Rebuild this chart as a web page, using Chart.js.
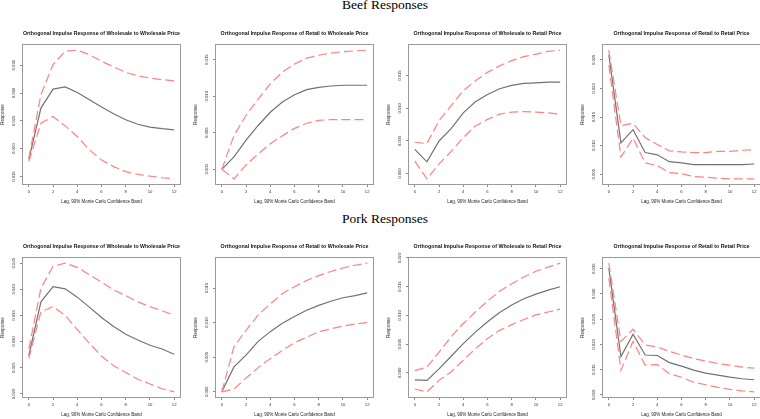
<!DOCTYPE html>
<html><head><meta charset="utf-8">
<script src="https://cdn.jsdelivr.net/npm/chart.js@4.4.1/dist/chart.umd.min.js"></script>
<style>
html,body{margin:0;padding:0;background:#fff;width:760px;height:419px;overflow:hidden;position:relative}
canvas{position:absolute}
.hd{position:absolute;left:0;width:770px;text-align:center;font-family:"Liberation Serif","Times New Roman",serif;font-size:13.5px;color:#000;line-height:1;white-space:nowrap}
</style></head><body>
<div class="hd" style="top:-1.8px">Beef Responses</div>
<div class="hd" style="top:211.7px">Pork Responses</div>
<script>
const lags = [0,1,2,3,4,5,6,7,8,9,10,11,12];
const xTicks = [0,2,4,6,8,10,12];

const titleWW = 'Orthogonal Impulse Response of Wholesale to Wholesale Price';
const titleRW = 'Orthogonal Impulse Response of Retail to Wholesale Price';
const titleWR = 'Orthogonal Impulse Response of Wholesale to Retail Price';
const titleRR = 'Orthogonal Impulse Response of Retail to Retail Price';
const xTitle = 'Lag, 90% Monte Carlo Confidence Band';
const yTitle = 'Response';

// Beef
const beefWWmid = [0.0181,0.0273,0.0307,0.0311,0.0301,0.0288,0.0275,0.0263,0.0252,0.0244,0.0239,0.0236,0.0234];
const beefWWup  = [0.0183,0.0297,0.0351,0.0375,0.0377,0.0369,0.0357,0.0347,0.0337,0.0331,0.0327,0.0324,0.0322];
const beefWWlo  = [0.0177,0.0246,0.0258,0.0241,0.0222,0.0198,0.0180,0.0168,0.0159,0.0154,0.0151,0.0148,0.0146];
const beefWWticks = [0.015,0.020,0.025,0.030,0.035];

const beefRWmid = [0.0000,0.0017,0.0040,0.0060,0.0078,0.0092,0.0102,0.0109,0.0112,0.0114,0.0115,0.0115,0.0115];
const beefRWup  = [0.0000,0.0046,0.0074,0.0096,0.0117,0.0133,0.0144,0.0152,0.0156,0.0159,0.0161,0.0162,0.0163];
const beefRWlo  = [0.0000,-0.0013,0.0006,0.0021,0.0035,0.0046,0.0056,0.0063,0.0067,0.0068,0.0068,0.0068,0.0068];
const beefRWticks = [0.000,0.005,0.010,0.015];

const beefWRmid = [0.0037,0.0018,0.0050,0.0069,0.0093,0.0110,0.0121,0.0130,0.0135,0.0138,0.0139,0.0140,0.0140];
const beefWRup  = [0.0048,0.0046,0.0081,0.0104,0.0127,0.0142,0.0155,0.0165,0.0173,0.0179,0.0183,0.0187,0.0189];
const beefWRlo  = [0.0019,-0.0008,0.0015,0.0034,0.0055,0.0073,0.0083,0.0091,0.0094,0.0095,0.0094,0.0093,0.0091];
const beefWRticks = [0.000,0.005,0.010,0.015];

const beefRRmid = [0.0259,0.0105,0.0128,0.0088,0.0084,0.0072,0.0070,0.0067,0.0067,0.0067,0.0067,0.0067,0.0068];
const beefRRup  = [0.0267,0.0135,0.0139,0.0114,0.0102,0.0091,0.0089,0.0088,0.0088,0.0090,0.0090,0.0092,0.0093];
const beefRRlo  = [0.0241,0.0080,0.0113,0.0070,0.0065,0.0053,0.0051,0.0046,0.0045,0.0043,0.0042,0.0042,0.0042];
const beefRRticks = [0.005,0.010,0.015,0.020,0.025];

// Pork
const porkWWmid = [0.0273,0.0376,0.0405,0.0401,0.0385,0.0366,0.0346,0.0329,0.0314,0.0303,0.0293,0.0286,0.0276];
const porkWWup  = [0.0286,0.0402,0.0444,0.0450,0.0442,0.0428,0.0414,0.0399,0.0388,0.0376,0.0367,0.0359,0.0350];
const porkWWlo  = [0.0268,0.0357,0.0367,0.0350,0.0323,0.0297,0.0272,0.0254,0.0241,0.0228,0.0219,0.0210,0.0204];
const porkWWticks = [0.020,0.025,0.030,0.035,0.040,0.045];

const porkRWmid = [0.0000,0.0036,0.0053,0.0073,0.0087,0.0099,0.0109,0.0118,0.0125,0.0131,0.0136,0.0139,0.0143];
const porkRWup  = [0.0000,0.0065,0.0089,0.0111,0.0127,0.0142,0.0152,0.0161,0.0168,0.0174,0.0179,0.0183,0.0186];
const porkRWlo  = [0.0000,0.0004,0.0020,0.0035,0.0048,0.0060,0.0071,0.0079,0.0087,0.0091,0.0095,0.0098,0.0100];
const porkRWticks = [0.000,0.005,0.010,0.015];

const porkWRmid = [-0.0012,-0.0013,0.0007,0.0029,0.0051,0.0071,0.0089,0.0105,0.0118,0.0129,0.0137,0.0144,0.0150];
const porkWRup  = [0.0004,0.0010,0.0036,0.0063,0.0086,0.0106,0.0125,0.0142,0.0155,0.0167,0.0177,0.0184,0.0191];
const porkWRlo  = [-0.0028,-0.0033,-0.0013,0.0002,0.0022,0.0042,0.0060,0.0074,0.0084,0.0093,0.0101,0.0106,0.0111];
const porkWRticks = [0.000,0.005,0.010,0.015,0.020];

const porkRRmid = [0.0351,0.0176,0.0220,0.0179,0.0178,0.0164,0.0157,0.0149,0.0143,0.0139,0.0135,0.0132,0.0130];
const porkRRup  = [0.0361,0.0206,0.0230,0.0199,0.0195,0.0186,0.0179,0.0172,0.0167,0.0162,0.0159,0.0155,0.0153];
const porkRRlo  = [0.0331,0.0149,0.0206,0.0159,0.0160,0.0142,0.0135,0.0125,0.0120,0.0115,0.0111,0.0108,0.0106];
const porkRRticks = [0.010,0.015,0.020,0.025,0.030,0.035];

const FONT = '"Liberation Sans", Arial, Helvetica, sans-serif';
const BOXW = 157, AXW = 23, PADR = 10, CH = 190;

const framePlugin = {
  id: 'frame',
  afterDraw(chart) {
    const {ctx, chartArea: a} = chart;
    ctx.save();
    ctx.strokeStyle = '#9a9a9a';
    ctx.lineWidth = 1;
    ctx.strokeRect(Math.round(a.left) - 0.5, Math.round(a.top) - 0.5, Math.round(a.right - a.left) + 1, Math.round(a.bottom - a.top) + 1);
    ctx.restore();
  }
};

const panels = [
  {left: 23,  top: 20,  title: titleWW, mid: beefWWmid, up: beefWWup, lo: beefWWlo, ticks: beefWWticks},
  {left: 216, top: 20,  title: titleRW, mid: beefRWmid, up: beefRWup, lo: beefRWlo, ticks: beefRWticks},
  {left: 409, top: 20,  title: titleWR, mid: beefWRmid, up: beefWRup, lo: beefWRlo, ticks: beefWRticks},
  {left: 603, top: 20,  title: titleRR, mid: beefRRmid, up: beefRRup, lo: beefRRlo, ticks: beefRRticks},
  {left: 23,  top: 233, title: titleWW, mid: porkWWmid, up: porkWWup, lo: porkWWlo, ticks: porkWWticks},
  {left: 216, top: 233, title: titleRW, mid: porkRWmid, up: porkRWup, lo: porkRWlo, ticks: porkRWticks},
  {left: 409, top: 233, title: titleWR, mid: porkWRmid, up: porkWRup, lo: porkWRlo, ticks: porkWRticks},
  {left: 603, top: 233, title: titleRR, mid: porkRRmid, up: porkRRup, lo: porkRRlo, ticks: porkRRticks}
];

function pts(arr) { return lags.map((x, i) => ({x: x, y: arr[i]})); }

function makePanel(p) {
  const c = document.createElement('canvas');
  const W = AXW + BOXW + PADR;
  c.width = W; c.height = CH;
  c.style.width = W + 'px'; c.style.height = CH + 'px';
  c.style.left = (p.left - AXW) + 'px';
  c.style.top = p.top + 'px';
  document.body.appendChild(c);
  const all = p.mid.concat(p.up, p.lo);
  const mn = Math.min.apply(null, all), mx = Math.max.apply(null, all);
  const ext = (mx - mn) * 0.04;
  const band = {borderColor: 'rgb(255,130,130)', borderWidth: 1.2, borderDash: [9, 4], pointRadius: 0, tension: 0, fill: false};
  new Chart(c, {
    type: 'line',
    data: {
      datasets: [
        Object.assign({data: pts(p.up)}, band),
        Object.assign({data: pts(p.lo)}, band),
        {data: pts(p.mid), borderColor: '#727272', borderWidth: 1.2, pointRadius: 0, tension: 0, fill: false}
      ]
    },
    options: {
      responsive: false, animation: false, devicePixelRatio: 1,
      layout: {padding: {left: 0, right: PADR, top: 0, bottom: 0}},
      plugins: {
        legend: {display: false},
        tooltip: {enabled: false},
        title: {
          display: true, text: p.title, fullSize: false, color: '#111',
          font: {family: FONT, size: 5.3, weight: 'bold'},
          padding: {top: 10.8, bottom: 7.84}
        }
      },
      scales: {
        x: {
          type: 'linear', min: -0.48, max: 12.48,
          afterBuildTicks: s => { s.ticks = xTicks.map(v => ({value: v})); },
          afterFit: s => { s.height = 26; },
          grid: {display: true, drawOnChartArea: false, drawTicks: true, tickLength: 3, color: '#8a8a8a', lineWidth: 1},
          border: {display: false},
          ticks: {font: {family: FONT, size: 4.2}, color: '#333', padding: 2.4, maxRotation: 0, minRotation: 0, autoSkip: false,
                  callback: v => String(v)},
          title: {display: true, text: xTitle, color: '#222', font: {family: FONT, size: 4.5}, padding: {top: 0, bottom: 5.3}}
        },
        y: {
          type: 'linear', min: mn - ext, max: mx + ext,
          afterBuildTicks: s => { s.ticks = p.ticks.map(v => ({value: v})); },
          afterFit: s => { s.width = AXW; },
          grid: {display: true, drawOnChartArea: false, drawTicks: true, tickLength: 3, color: '#8a8a8a', lineWidth: 1},
          border: {display: false},
          ticks: {font: {family: FONT, size: 4.2}, color: '#333', padding: 0.7, minRotation: 90, maxRotation: 90,
                  crossAlign: 'center', autoSkip: false, callback: v => Number(v).toFixed(3)},
          title: {display: true, text: yTitle, color: '#222', font: {family: FONT, size: 4.5}, padding: {top: 0.3, bottom: 0}}
        }
      }
    },
    plugins: [framePlugin]
  });
}

panels.forEach(makePanel);
</script>
</body></html>
